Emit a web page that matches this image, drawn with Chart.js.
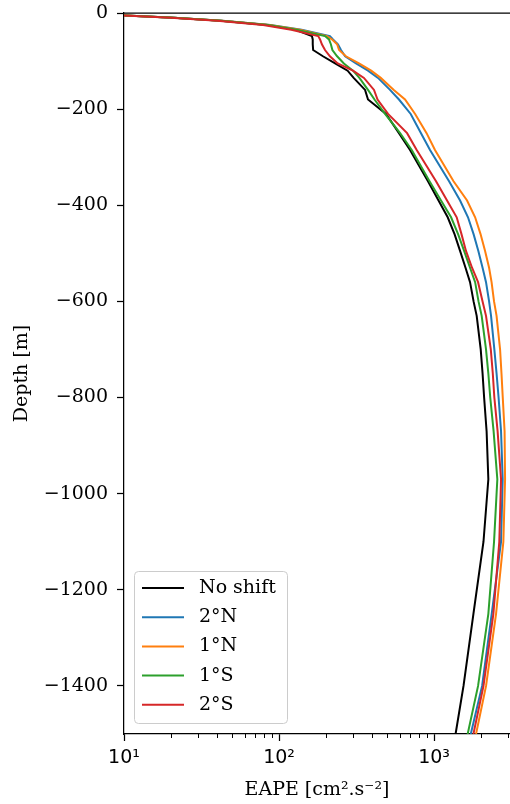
<!DOCTYPE html>
<html>
<head>
<meta charset="utf-8">
<script src="https://cdn.jsdelivr.net/npm/chart.js@4.4.1/dist/chart.umd.min.js"></script>
<style>
  html, body { margin: 0; padding: 0; background: #fff; }
  #wrap { width: 510px; height: 804px; position: relative; }
</style>
</head>
<body>
<div id="wrap"><canvas id="eapeChart"></canvas></div>
<script>
// depth levels (m) shared by every profile
const depths = [-2, -5, -10, -16, -25, -35, -48, -55, -65, -77, -90, -105, -120, -135, -160, -180,
  -210, -250, -285, -350, -390, -425, -460, -495, -530, -560, -600, -630, -700, -750, -800,
  -870, -970, -1100, -1250, -1400, -1500];

// EAPE profiles (cm2.s-2)
const noShift = [7, 10.2, 21, 42, 84, 128, 163, 165, 165, 166, 192, 230, 277, 303, 359, 375,
  490, 594, 700, 914, 1069, 1225, 1356, 1472, 1596, 1707, 1799, 1884, 2000, 2056, 2104,
  2183, 2240, 2084, 1795, 1549, 1377];
const shift2N = [7, 10.3, 21, 43, 88, 140, 213, 223, 240, 251, 267, 314, 375, 435, 520, 594,
  707, 824, 942, 1250, 1472, 1656, 1799, 1931, 2056, 2164, 2265, 2332, 2449, 2531, 2608,
  2705, 2772, 2705, 2355, 2042, 1726];
const shift1N = [7, 10.3, 21, 43, 87, 136, 204, 220, 237, 244, 270, 328, 393, 453, 550, 650,
  755, 895, 1014, 1336, 1633, 1841, 1995, 2134, 2265, 2350, 2438, 2531, 2667, 2723, 2775,
  2851, 2872, 2800, 2512, 2165, 1866];
const shift1S = [7, 10.2, 21, 42, 85, 130, 198, 210, 216, 221, 237, 262, 300, 330, 375, 413,
  483, 604, 718, 935, 1109, 1288, 1429, 1563, 1707, 1841, 1936, 2029, 2164, 2240, 2304,
  2422, 2560, 2438, 2240, 1923, 1648];
const shift2S = [7, 10, 20, 40, 79, 120, 179, 184, 189, 198, 213, 239, 300, 353, 410, 432,
  505, 670, 773, 1030, 1213, 1400, 1503, 1607, 1758, 1923, 2056, 2164, 2323, 2393, 2449,
  2570, 2705, 2636, 2414, 2084, 1795];

const seriesLabels = ['No shift', '2°N', '1°N', '1°S', '2°S'];
const seriesValues = [noShift, shift2N, shift1N, shift1S, shift2S];
const seriesColors = ['#000000', '#1f77b4', '#ff7f0e', '#2ca02c', '#d62728'];

const xMajorTicks = [10, 100, 1000];
const xTickLabels = ['10\u00b9', '10\u00b2', '10\u00b3'];
const xMinorTicks = [20, 30, 40, 50, 60, 70, 80, 90, 200, 300, 400, 500, 600, 700, 800, 900, 2000, 3000];
const yTicks = [-1400, -1200, -1000, -800, -600, -400, -200, 0];

Chart.defaults.font.family = "'DejaVu Serif', serif";
Chart.defaults.color = '#000';

// top spine + short minor ticks on the log axis
const axisExtras = {
  id: 'axisExtras',
  afterDraw(chart) {
    const { ctx, chartArea, scales } = chart;
    ctx.save();
    ctx.strokeStyle = '#000';
    ctx.lineWidth = 1.25;
    ctx.beginPath();
    ctx.moveTo(chartArea.left, chartArea.top);
    ctx.lineTo(chartArea.right, chartArea.top);
    ctx.stroke();
    ctx.lineWidth = 1;
    xMinorTicks.forEach(v => {
      const px = Math.round(scales.x.getPixelForValue(v)) + 0.5;
      ctx.beginPath();
      ctx.moveTo(px, chartArea.bottom);
      ctx.lineTo(px, chartArea.bottom + 4);
      ctx.stroke();
    });
    ctx.restore();
  }
};

// matplotlib-like legend in the lower left corner of the axes
const boxLegend = {
  id: 'boxLegend',
  afterDraw(chart) {
    const { ctx, chartArea } = chart;
    const x0 = chartArea.left + 10;
    const w = 153, h = 152;
    const y0 = chartArea.bottom - 11 - h;
    ctx.save();
    ctx.beginPath();
    ctx.roundRect(x0 + 0.5, y0 + 0.5, w, h, 4);
    ctx.fillStyle = 'rgba(255,255,255,0.8)';
    ctx.fill();
    ctx.strokeStyle = '#cccccc';
    ctx.lineWidth = 1;
    ctx.stroke();
    ctx.font = "19px 'DejaVu Serif'";
    ctx.textBaseline = 'middle';
    ctx.textAlign = 'left';
    chart.data.datasets.forEach((ds, i) => {
      const y = y0 + 17 + i * 29.2;
      ctx.strokeStyle = ds.borderColor;
      ctx.lineWidth = 2;
      ctx.beginPath();
      ctx.moveTo(x0 + 8, y);
      ctx.lineTo(x0 + 50, y);
      ctx.stroke();
      ctx.fillStyle = '#000';
      ctx.fillText(ds.label, x0 + 65, y);
    });
    ctx.restore();
  }
};

const datasets = seriesLabels.map((label, i) => ({
  label,
  data: depths.map((d, k) => ({ x: seriesValues[i][k], y: d })),
  borderColor: seriesColors[i],
  backgroundColor: seriesColors[i],
  borderWidth: 2,
  pointRadius: 0,
  showLine: true,
  tension: 0,
  order: seriesLabels.length - i
}));

new Chart(document.getElementById('eapeChart'), {
  type: 'scatter',
  data: { datasets },
  plugins: [axisExtras, boxLegend],
  options: {
    responsive: true,
    maintainAspectRatio: false,
    animation: false,
    layout: { padding: { top: 13, right: 0, left: 0, bottom: 0 } },
    plugins: {
      legend: { display: false },
      tooltip: { enabled: false }
    },
    scales: {
      x: {
        type: 'logarithmic',
        min: 10,
        max: 3090,
        afterBuildTicks: (scale) => { scale.ticks = xMajorTicks.map(v => ({ value: v })); },
        afterFit: (scale) => {
          scale.height = 70;
          scale.paddingLeft = 0;
          scale.paddingRight = 0;
        },
        ticks: {
          autoSkip: false,
          maxRotation: 0,
          padding: 6,
          font: { family: "'DejaVu Sans', sans-serif", size: 19 },
          callback: (v) => xTickLabels[xMajorTicks.indexOf(v)] ?? ''
        },
        grid: { drawOnChartArea: false, tickLength: 7, tickWidth: 1.25, tickColor: '#000' },
        border: { display: true, color: '#000', width: 1.25 },
        title: {
          display: true,
          text: 'EAPE [cm\u00b2.s\u207b\u00b2]',
          font: { size: 19 },
          padding: { top: 0, bottom: 3 }
        }
      },
      y: {
        type: 'linear',
        min: -1500,
        max: 0,
        afterBuildTicks: (scale) => { scale.ticks = yTicks.map(v => ({ value: v })); },
        afterFit: (scale) => {
          scale.width = 124;
          scale.paddingTop = 0;
          scale.paddingBottom = 0;
        },
        ticks: {
          padding: 9,
          font: { size: 19 },
          callback: (v) => v < 0 ? '\u2212' + Math.abs(v) : String(v)
        },
        grid: { drawOnChartArea: false, tickLength: 7, tickWidth: 1.25, tickColor: '#000' },
        border: { display: true, color: '#000', width: 1.25 },
        title: {
          display: true,
          text: 'Depth [m]',
          font: { size: 19 },
          padding: { top: 11, bottom: 0 }
        }
      }
    }
  }
});
</script>
</body>
</html>
